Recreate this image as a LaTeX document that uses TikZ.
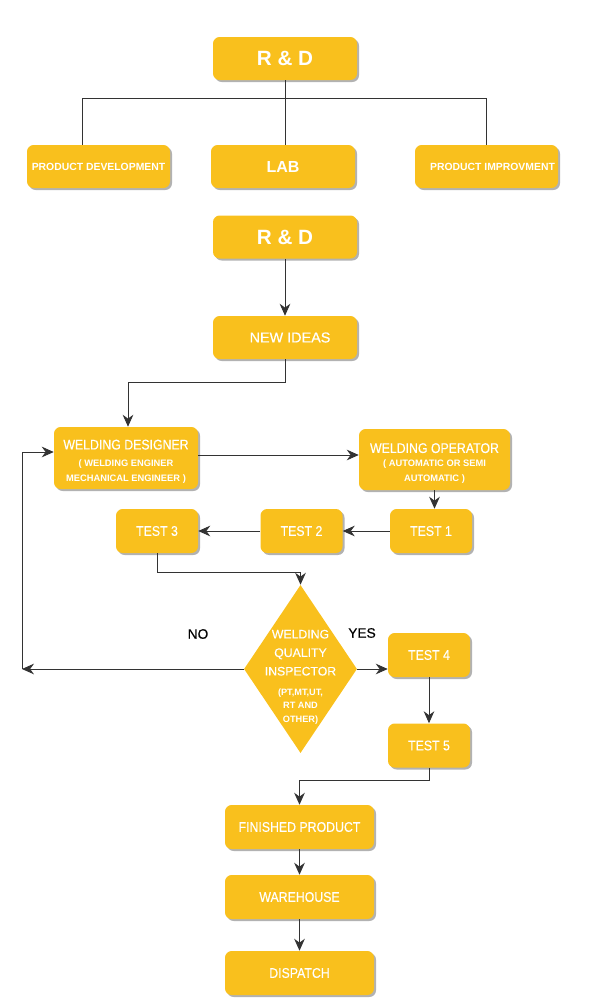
\documentclass[tikz,border=0pt]{standalone}
\usepackage{fontspec}
\setmainfont{Liberation Sans}
\newfontfamily\narrowfont[FakeStretch=0.88,FakeBold=0.4]{Liberation Sans}
\newfontfamily\mediumfont[FakeBold=0.4]{Liberation Sans}
\usetikzlibrary{shapes.geometric, arrows.meta, shadows}
\definecolor{boxyellow}{RGB}{249, 192, 29}
\definecolor{linegray}{RGB}{51, 51, 51}
\newcommand{\smallbold}{\rmfamily\bfseries\fontsize{7}{10}\selectfont}
\newcommand{\tinybold}{\rmfamily\bfseries\fontsize{6.9}{10.1}\selectfont}

\begin{document}
\begin{tikzpicture}[x=0.75pt,y=-0.75pt,
  box/.style={rectangle,rounded corners=5pt,fill=boxyellow,text=white,inner sep=0pt,
    drop shadow={shadow xshift=1.5pt,shadow yshift=-1.5pt,fill=black,opacity=0.3}},
  wide/.style={box,minimum width=108pt,minimum height=32.25pt},
  test/.style={box,minimum width=61.5pt,minimum height=33pt,font=\narrowfont\fontsize{10.5}{12}\selectfont},
  stage/.style={box,minimum width=111.75pt,minimum height=33pt,font=\narrowfont\fontsize{10.5}{12}\selectfont},
  boxtext/.style={text=white,align=center,inner sep=0pt,font=\narrowfont\fontsize{10.5}{12}\selectfont},
  decision/.style={diamond,fill=boxyellow,inner sep=0pt,minimum width=84.75pt,minimum height=126pt},
  dtext/.style={text=white,align=center,inner sep=0pt,font=\mediumfont\fontsize{9.2}{13.9}\selectfont},
  answer/.style={font=\mediumfont\fontsize{10.3}{12}\selectfont},
  link/.style={draw=linegray,line width=0.7pt},
  arr/.style={link,-{Stealth[length=9pt,width=8pt]}}]
\useasboundingbox (0,0) rectangle (600,1000);
\node[wide,font=\bfseries\fontsize{15.5}{18}\selectfont] (rd1) at (285,58.5) {R \& D};
\node[wide,minimum width=107.25pt,font=\bfseries\fontsize{7.8}{9}\selectfont] (pd) at (98.5,166.5) {PRODUCT DEVELOPMENT};
\node[wide,font=\bfseries\fontsize{12}{14}\selectfont] (lab) at (283,166.5) {LAB};
\node[wide,minimum width=107.25pt,font=\bfseries\fontsize{7.8}{9}\selectfont] (pi) at (486.5,166.5) {\hspace*{9pt}PRODUCT IMPROVMENT};
\node[wide,font=\bfseries\fontsize{15.5}{18}\selectfont] (rd2) at (285,237) {R \& D};
\node[wide,font=\mediumfont\fontsize{10.8}{12}\selectfont] (ni) at (285,337.5) {\hspace*{7.5pt}NEW IDEAS};
\node[box,minimum width=108pt,minimum height=46.5pt,label={[boxtext,yshift=-2.5pt]center:%
  {WELDING DESIGNER\\[0.5pt]{\smallbold ( WELDING ENGINER}\\[-0.8pt]{\smallbold MECHANICAL ENGINEER )}}}]
  (wd) at (126,458) {};
\node[box,minimum width=113.25pt,minimum height=45.75pt,label={[boxtext,yshift=-3pt]center:%
  {WELDING OPERATOR\\[-1.5pt]{\smallbold ( AUTOMATIC OR SEMI}\\[-0.8pt]{\smallbold AUTOMATIC )}}}]
  (wo) at (434.5,459.5) {};
\node[test] (t1) at (431,531) {TEST 1};
\node[test] (t2) at (301.5,531) {TEST 2};
\node[test] (t3) at (157,531) {TEST 3};
\node[decision,label={[dtext,yshift=-6pt]center:{WELDING\\QUALITY\\INSPECTOR\\[1pt]%
  {\tinybold (PT,MT,UT,}\\[-3.8pt]{\tinybold RT AND}\\[-3.8pt]{\tinybold OTHER)}}}] (qi) at (300.5,669) {};
\node[answer] (no) at (198,634) {NO};
\node[answer] (yes) at (362,633) {YES};
\node[test] (t4) at (429,655) {TEST 4};
\node[test] (t5) at (429,745.5) {TEST 5};
\node[stage] (fp) at (299.5,827) {FINISHED PRODUCT};
\node[stage] (wh) at (299.5,897) {WAREHOUSE};
\node[stage] (ds) at (299.5,973) {DISPATCH};
\coordinate (fork) at (285,98);
\coordinate (loop) at (22,669);
\draw[link] (rd1.south) -- (fork);
\draw[link] (fork) -| ([xshift=-12pt]pd.north);
\draw[link] (fork) -- (fork |- lab.north);
\draw[link] (fork) -| (pi.north);
\draw[arr] (rd2) -- (ni);
\draw[arr] (ni.south) -- ++(0,23) -| ([xshift=1.5pt]wd.north);
\draw[arr] ([yshift=2.25pt]wd.east) -- ([yshift=2.25pt]wd.east -| wo.west);
\draw[arr] (wo.south) -- (wo.south |- t1.north);
\draw[arr] (t1) -- (t2);
\draw[arr] (t2) -- (t3);
\draw[arr] (t3.south) -- ++(0,19) -| (qi.north);
\draw[arr] (qi.west) -- (loop);
\draw[arr] (loop) |- ([yshift=4.5pt]wd.west);
\draw[arr] (qi.east) -- (qi.east -| t4.west);
\draw[arr] (t4) -- (t5);
\draw[arr] (t5.south) -- ++(0,13) -| (fp.north);
\draw[arr] (fp) -- (wh);
\draw[arr] (wh) -- (ds);
\end{tikzpicture}
\end{document}
